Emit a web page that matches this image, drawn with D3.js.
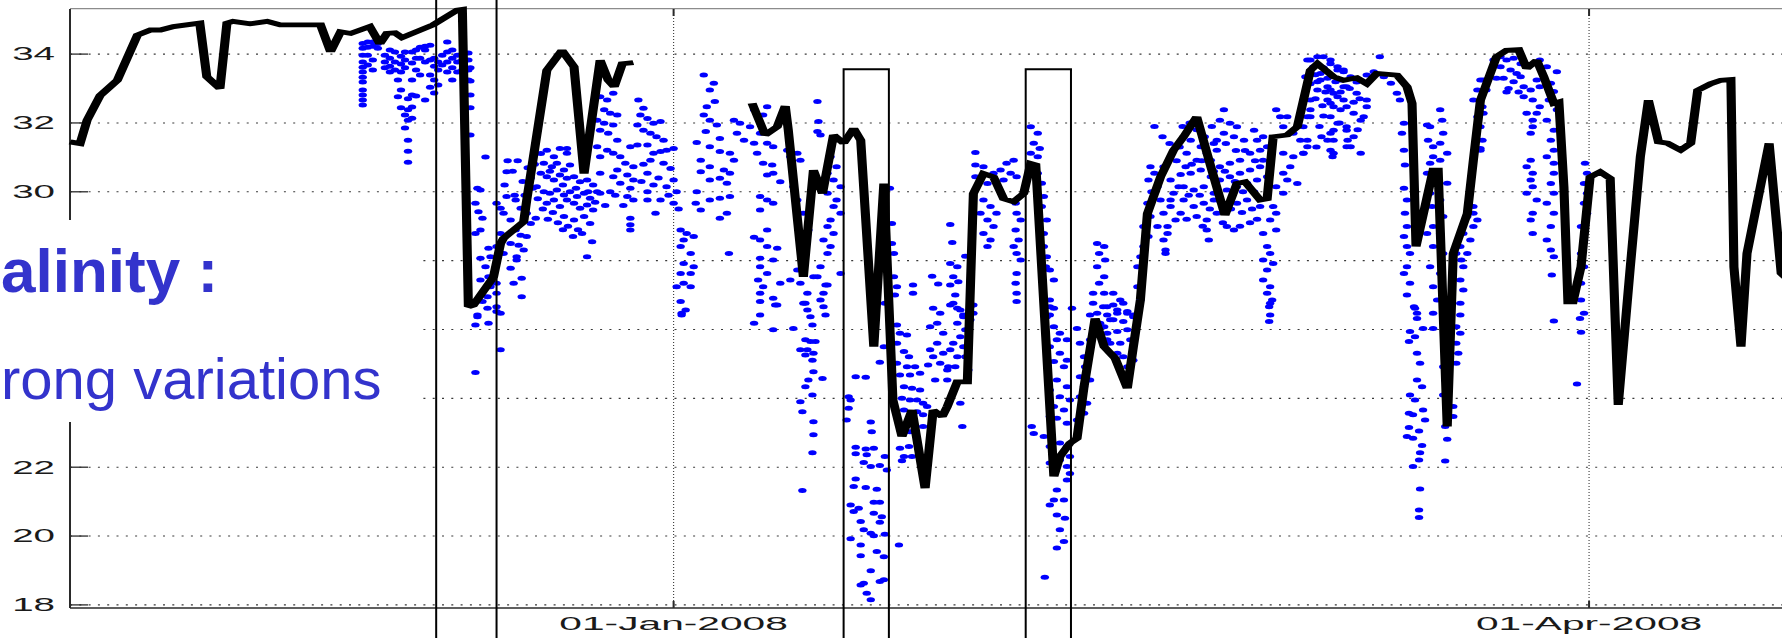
<!DOCTYPE html>
<html>
<head>
<meta charset="utf-8">
<script src="https://cdn.jsdelivr.net/npm/d3@7"></script>
<style>
  html, body { margin: 0; padding: 0; background: #fff; }
  svg { display: block; }
</style>
</head>
<body>
<svg id="chart" width="1782" height="638"></svg>
<script>
// Days are counted from 1 Jan 2008 (negative = late 2007); values are salinity.

const yTickValues = [18, 20, 22, 24, 26, 28, 30, 32, 34];
const xTickDates = ["2008-01-01", "2008-04-01"];

// Model salinity, first stretch (November - December 2007)
const modelDecember = [
  [-60.0,31.45],[-59.0,31.40],[-58.3,32.08],[-57.0,32.80],[-55.3,33.24],[-53.3,34.55],[-52.0,34.70],
  [-51.0,34.70],[-49.7,34.80],[-47.1,34.90],[-46.4,33.34],[-45.1,33.00],[-44.4,34.90],[-43.8,34.95],
  [-42.1,34.88],[-40.4,34.95],[-39.1,34.85],[-35.1,34.85],[-34.1,34.07],[-33.1,34.65],[-32.1,34.60],
  [-30.2,34.80],[-29.2,34.30],[-28.5,34.60],[-27.7,34.62],[-27.0,34.48],[-23.9,34.85],[-21.5,35.28],
  [-21.0,35.30],[-20.4,26.66],[-19.9,26.71],[-17.9,27.53],[-17.2,28.50],[-16.9,28.65],[-14.9,29.13],
  [-14.6,29.76],[-12.6,33.53],[-11.1,34.11],[-9.9,33.63],[-8.9,30.53],[-7.3,33.82],[-6.5,33.24],
  [-5.9,33.05],[-5.1,33.72],[-4.0,33.75]
];

// Model salinity, second stretch (January - April 2008)
const modelJanuaryApril = [
  [7.8,32.57],[9.1,31.65],[10.3,31.89],[11.1,32.49],[11.4,31.79],[12.9,27.53],[13.9,30.63],[14.8,29.95],
  [15.9,31.65],[16.9,31.41],[17.9,31.84],[18.6,31.50],[19.9,25.50],[20.9,30.24],[21.8,23.95],[22.7,22.89],
  [23.7,23.66],[25.0,21.39],[25.8,23.66],[26.7,23.47],[27.2,23.76],[28.2,24.48],[29.2,24.48],[29.8,29.95],
  [30.8,30.53],[31.8,30.43],[32.8,29.80],[33.8,29.71],[34.8,29.95],[35.5,30.82],[36.0,30.78],[37.8,21.73],
  [38.4,22.31],[39.4,22.70],[40.1,22.84],[40.8,24.34],[41.9,26.32],[42.8,25.50],[43.9,25.16],[45.1,24.29],
  [45.7,25.50],[46.4,26.86],[47.1,29.37],[48.4,30.43],[49.7,31.21],[50.7,31.60],[52.0,32.18],[53.4,30.73],
  [54.8,29.32],[56.0,30.24],[56.8,30.29],[58.3,29.76],[59.0,29.80],[59.6,31.60],[61.0,31.65],[62.0,31.89],
  [63.3,33.53],[64.0,33.72],[65.6,33.34],[66.6,33.24],[67.9,33.31],[68.9,33.14],[69.9,33.44],[71.9,33.39],
  [72.9,33.05],[73.4,32.57],[73.8,28.41],[75.5,30.63],[76.0,30.63],[76.9,23.18],[77.5,28.21],[78.9,29.37],
  [79.5,30.92],[80.2,32.66],[81.8,33.92],[82.8,34.11],[84.0,34.13],[84.8,33.58],[85.8,33.82],[86.5,33.34],
  [87.5,32.57],[88.0,32.61],[88.5,30.14],[88.9,26.80],[89.4,26.80],[90.2,27.82],[91.1,30.43],[92.1,30.58],
  [93.1,30.39],[93.9,23.81],[95.1,27.82],[96.1,31.02],[96.9,32.66],[97.9,31.45],[98.8,31.41],[100.1,31.21],
  [101.1,31.41],[101.8,32.95],[103.1,33.14],[104.1,33.24],[105.1,33.26],[105.4,27.82],[106.1,25.50],
  [106.7,28.21],[108.9,31.41],[110.1,27.63],[111.0,27.40]
];

// Observed salinity samples
const salinityObs = [
  // late November
  [-30.9,34.31],[-30.9,34.17],[-30.9,33.97],[-30.9,33.77],[-30.9,33.62],[-30.9,33.48],[-30.9,33.33],[-30.9,33.19],
  [-30.9,32.96],[-30.9,32.81],[-30.9,32.67],[-30.9,32.52],[-30.4,34.35],[-30.4,34.20],[-30.4,33.97],[-30.4,33.68],
  [-29.9,34.35],[-29.9,34.23],[-29.9,33.83],[-29.9,33.54],[-29.4,34.31],[-29.4,34.17],[-28.7,33.97],[-28.7,33.77],
  [-28.7,33.60],[-28.2,34.12],[-28.2,33.88],[-28.2,33.65],[-28.2,33.48],[-27.7,34.06],[-27.7,33.77],[-27.7,33.54],
  [-27.4,33.25],[-27.4,32.76],[-27.1,33.94],[-27.1,33.71],[-27.1,33.48],[-27.1,32.96],[-27.1,32.44],[-26.7,34.06],
  [-26.7,33.83],[-26.7,33.60],[-26.7,32.23],[-26.7,31.85],[-26.4,32.70],[-26.4,32.38],[-26.4,32.08],[-26.4,31.50],
  [-26.4,31.18],[-26.4,30.86],[-26.0,34.06],[-26.0,33.74],[-26.0,33.25],[-26.0,32.81],[-26.0,32.46],[-26.0,32.14],
  [-25.6,34.12],[-25.6,33.88],[-25.6,33.54],[-25.6,32.78],[-25.2,34.20],[-25.2,33.88],[-25.2,33.39],[-24.7,34.23],
  [-24.7,34.12],[-24.7,33.77],[-24.7,32.67],[-24.2,34.26],[-24.2,33.83],[-24.2,33.39],[-24.2,33.04],[-23.8,33.88],
  [-23.8,33.65],[-23.8,33.25],[-23.8,32.87],[-23.4,33.77],[-23.4,33.54],[-23.4,33.10],[-23.0,33.97],[-23.0,33.68],
  [-22.5,34.35],[-22.5,34.06],[-22.5,33.77],[-22.5,33.48],[-22.0,34.12],[-22.0,33.88],[-22.0,33.60],[-22.0,33.25],
  [-21.5,33.97],[-21.5,33.77],[-21.5,33.48],[-21.0,34.00],[-21.0,33.83],[-21.0,33.54],[-20.4,34.03],[-20.4,33.83],
  [-20.4,33.54],[-20.4,33.25],[-20.2,33.60],[-20.2,33.22],[-20.2,32.81],[-20.2,32.44],[-20.2,31.65],[-18.7,31.01],
  // early December
  [-19.5,30.10],[-19.2,30.05],[-19.7,29.67],[-19.4,29.42],[-19.0,29.23],[-19.2,28.89],[-19.7,28.79],[-18.4,28.36],
  [-18.2,28.11],[-19.2,28.07],[-18.7,27.82],[-18.4,27.53],[-19.2,27.44],[-18.2,27.24],[-17.6,27.05],[-18.5,26.95],
  [-19.0,26.81],[-17.6,26.66],[-17.2,26.47],[-19.5,26.37],[-16.6,30.58],[-17.6,29.67],[-17.2,29.52],[-16.9,29.38],
  [-16.2,29.18],[-15.7,28.89],[-15.2,28.74],[-17.2,28.79],[-16.2,28.50],[-15.4,28.45],[-17.6,28.41],[-16.9,28.21],
  [-15.6,28.02],[-16.2,27.78],[-15.1,27.49],[-15.9,27.34],[-15.1,26.95],[-17.6,27.34],[-16.6,29.86],[-15.7,29.76],
  [-15.2,29.52],[-14.6,29.38],[-14.2,29.08],[-13.7,29.23],[-14.6,28.70],[-14.9,28.31],[-15.6,28.11],[-19.5,26.42],
  [-18.5,26.62],[-17.6,26.52],[-19.7,26.13],[-18.4,26.18],[-17.2,25.41],[-19.7,24.75],
  // mid to late December
  [-13.2,31.11],[-12.6,31.21],[-11.9,31.02],[-11.3,31.26],[-10.6,31.12],[-12.9,30.83],[-12.1,30.73],[-11.6,30.83],
  [-10.9,30.63],[-10.3,30.78],[-13.2,30.54],[-12.6,30.44],[-11.9,30.34],[-11.3,30.49],[-10.6,30.39],[-9.9,30.44],
  [-9.3,30.29],[-8.6,30.34],[-8.0,30.20],[-13.6,30.15],[-12.9,30.00],[-12.3,29.96],[-11.6,30.05],[-10.9,29.91],
  [-10.3,30.00],[-9.6,29.86],[-8.9,29.96],[-8.3,29.81],[-7.6,30.00],[-12.6,29.67],[-11.9,29.76],[-11.3,29.57],
  [-10.6,29.76],[-9.9,29.67],[-9.3,29.52],[-8.6,29.62],[-8.0,29.47],[-10.9,29.28],[-9.9,29.18],[-8.9,29.28],
  [-8.3,29.08],[-9.1,28.79],[-8.1,28.55],[-8.6,28.11],[-10.6,31.26],[-7.3,30.54],[-7.3,29.96],
  [-16.5,30.90],[-16.0,30.60],[-15.5,30.90],[-15.0,30.30],[-14.5,30.70],[-14.0,30.10],[-13.5,29.80],[-13.0,29.50],
  [-12.5,29.20],[-12.0,29.40],[-11.5,29.10],[-11.0,28.90],[-10.5,29.00],[-10.0,28.70],[-9.5,28.90],[-16.8,30.20],
  [-15.8,29.90],[-14.8,29.90],[-14.2,30.40],[-13.8,30.80],[-12.3,30.60],[-11.0,30.20],[-9.7,30.10],[-8.5,30.00],
  [-7.8,29.70],[-6.8,29.60],[-6.3,30.00],[-5.8,29.90],[-5.0,29.60],[-3.2,30.30],[-3.0,30.80],[-1.5,30.40],
  [-0.5,29.90],[0.5,29.50],
  [-7.3,32.76],[-6.6,32.67],[-6.0,32.86],[-6.9,32.38],[-6.3,32.28],[-5.6,32.23],[-7.6,32.08],[-6.9,31.99],
  [-6.0,31.94],[-7.3,31.79],[-6.5,31.70],[-5.6,31.50],[-7.6,31.31],[-6.6,31.21],[-7.3,31.02],[-6.0,31.12],
  [-5.3,31.02],[-4.3,31.31],[-3.6,31.36],[-4.8,30.83],[-4.0,30.73],[-5.6,30.63],[-4.6,30.49],[-4.0,30.34],
  [-6.0,30.44],[-5.3,30.25],[-4.3,30.10],[-4.6,29.86],[-4.0,29.76],[-4.3,29.23],[-4.3,29.04],[-4.3,28.89],
  [-3.5,32.67],[-3.0,32.43],[-3.3,32.23],[-2.6,32.13],[-3.6,31.94],[-3.0,31.79],[-2.0,31.99],[-1.3,32.04],
  [-2.3,31.70],[-1.7,31.60],[-1.0,31.50],[-2.6,31.36],[-2.0,31.12],[-1.3,31.17],[-0.7,31.21],[0.0,31.26],
  [-2.3,30.92],[-1.0,30.83],[-0.3,30.68],[-2.6,30.54],[-2.0,30.20],[-2.6,30.00],[-0.7,30.15],[0.0,30.34],
  [0.3,30.00],[0.0,29.67],[-1.3,29.76],[-1.8,29.38],[-2.6,29.76],
  // January
  [3.0,33.39],[4.0,33.15],[3.6,32.96],[4.1,32.62],[3.3,32.47],[3.0,32.23],[3.6,32.08],[4.3,31.94],
  [3.2,31.75],[4.6,31.55],[2.3,31.43],[3.6,31.31],[4.6,31.17],[5.6,31.12],[6.0,30.92],[2.7,30.92],
  [3.6,30.73],[5.0,30.63],[5.6,30.54],[2.7,30.58],[3.6,30.34],[4.6,30.39],[5.3,30.25],[2.3,30.00],
  [3.6,29.76],[4.6,29.81],[5.6,29.86],[2.2,29.67],[5.3,29.38],[2.7,29.47],[4.6,29.23],[6.3,31.70],
  [6.6,31.99],[6.0,32.08],[7.6,31.89],[8.6,31.70],[9.3,31.41],[7.0,31.50],[8.0,31.41],[8.3,31.12],
  [9.9,31.31],[8.9,30.83],[9.8,30.78],[9.9,30.54],[10.6,30.29],[9.3,30.49],[8.6,29.86],[9.3,29.76],
  [9.9,29.67],[8.6,29.47],[9.3,28.89],[8.0,28.68],[8.6,28.60],[9.3,28.41],[10.3,28.36],[8.6,28.07],
  [9.9,28.02],[8.6,27.82],[9.3,27.63],[8.4,27.44],[8.9,27.24],[8.6,27.05],[9.9,26.91],[10.3,26.71],
  [8.6,26.42],[5.5,28.21],[8.0,32.38],[8.9,32.23],[9.3,32.47],[11.3,31.21],[11.6,31.02],[12.3,31.12],
  [12.6,30.92],[11.9,30.15],[12.3,29.76],[12.9,29.38],[13.4,28.89],[13.9,27.53],[15.1,27.29],
  [14.3,32.62],[14.4,32.04],[14.3,31.75],[14.6,31.65],[15.6,31.02],[16.2,30.73],[15.3,30.54],[15.9,30.34],
  [16.6,30.15],[15.3,29.96],[16.2,29.76],[15.9,29.57],[16.6,29.38],[15.6,29.18],[15.3,28.99],[15.9,28.79],
  [14.9,28.60],[15.6,28.41],[15.3,28.21],[14.6,27.82],[16.6,27.63],[14.3,27.53],[15.3,27.29],[14.9,27.05],
  [14.6,26.86],[12.6,27.34],[12.3,27.73],[11.6,27.44],[10.6,27.34],[13.3,27.05],[13.1,26.76],
  [0.7,28.89],[1.3,28.79],[1.0,28.60],[2.0,28.70],[0.7,28.41],[1.7,28.21],[1.0,27.92],[2.0,27.82],
  [0.7,27.63],[1.7,27.63],[1.0,27.34],[1.7,27.24],[0.7,26.81],[0.8,26.47],[0.3,27.24],[1.2,26.57],[0.8,26.42],
  [8.6,26.81],[10.1,26.71],[8.0,26.18],[9.9,25.99],[11.9,26.03],[12.9,26.76],[13.3,26.57],[13.6,26.37],
  [13.8,26.13],[13.1,25.70],[13.6,25.65],[14.1,25.65],[12.6,25.41],[13.3,25.41],[13.9,25.31],[13.1,25.26],
  [13.8,25.11],[13.9,24.77],[13.4,24.53],[13.1,24.34],[13.8,24.10],[12.6,23.90],[12.8,23.61],[13.9,23.32],
  [13.9,22.94],[13.8,22.42],[12.8,21.32],[14.8,24.58],[14.9,26.66],[15.1,26.42],
  // freshening event, around 20 January
  [17.4,24.05],[17.6,23.95],[17.4,23.71],[17.2,23.37],[18.1,24.63],[19.1,24.61],[19.6,23.31],[19.7,23.03],
  [20.5,25.05],[18.1,22.58],[19.1,22.53],[19.9,22.55],[18.1,22.39],[19.2,22.36],[18.9,22.14],[19.6,22.02],
  [20.5,22.05],[21.2,21.92],[21.0,22.31],[18.1,21.66],[17.9,21.44],[19.1,21.41],[20.2,21.36],[17.6,20.90],
  [18.4,20.81],[17.9,20.71],[19.9,20.98],[20.5,20.98],[19.9,20.66],[20.7,20.56],[20.5,20.40],[18.6,20.42],
  [18.9,20.18],[19.6,20.08],[18.6,19.74],[17.6,19.92],[19.9,20.01],[21.0,20.05],[18.6,19.43],[20.2,19.55],
  [20.9,19.40],[19.6,18.99],[18.9,18.63],[20.9,18.73],[19.2,18.34],[19.6,18.15],[18.6,18.58],[20.5,18.68],
  [20.9,25.50],[22.4,19.74],[21.5,30.10],[21.7,29.08],[21.7,28.50],[21.9,28.21],[21.9,27.53],[22.2,27.24],
  [22.0,27.00],[21.0,26.76],
  [22.2,26.13],[22.5,25.89],[23.2,25.84],[22.2,25.60],[22.9,25.36],[23.4,25.21],[22.2,25.02],[23.2,24.92],
  [24.0,24.92],[22.5,24.68],[23.5,24.68],[24.5,24.73],[22.9,24.34],[23.7,24.29],[24.5,24.24],[22.7,24.00],
  [23.5,23.95],[24.2,23.95],[24.8,23.86],[22.9,23.66],[24.2,23.61],[25.2,23.76],[23.5,23.37],[24.8,23.52],
  [22.9,23.13],[23.5,23.03],[24.8,23.18],[22.5,22.55],[23.4,22.60],[22.9,22.31],[23.7,22.31],[22.7,22.19],
  [25.8,26.62],[26.5,26.47],[26.2,26.18],[25.5,26.08],[26.8,25.89],[26.2,25.60],[25.5,25.41],[26.8,25.31],
  [27.5,25.41],[25.8,25.21],[26.5,25.02],[27.3,24.92],[25.3,24.97],[27.2,24.82],[26.0,24.53],[27.2,24.53],
  [28.2,26.62],[28.8,26.42],[28.2,26.18],[29.0,25.99],[28.5,25.79],[27.8,25.60],[28.8,25.50],[28.2,25.21],
  [29.0,25.21],[28.0,24.92],[29.3,24.82],[28.5,23.86],[28.7,23.18],[27.5,26.71],[29.5,26.28],[29.8,26.71],
  [23.8,27.29],[23.8,27.05],[25.7,27.55],[26.3,27.32],[27.5,29.05],[27.7,28.53],[29.0,28.13],[27.5,27.92],
  [28.2,27.82],[27.8,27.53],[27.5,27.29],[28.3,27.39],[28.0,27.00],[27.8,26.76],[29.5,26.66],[29.8,26.47],
  [28.5,26.57],[28.8,26.37],
  // early February
  [30.0,31.14],[30.0,30.78],[30.0,30.44],[30.8,30.73],[31.2,30.24],[31.8,30.54],[32.5,30.63],[33.1,30.83],
  [33.8,30.92],[33.5,30.54],[32.8,30.34],[34.1,30.44],[30.8,29.76],[31.5,29.57],[32.1,29.38],[30.5,29.38],
  [31.2,29.18],[31.8,28.99],[30.8,28.79],[31.5,28.60],[31.2,28.41],[34.0,29.67],[34.1,29.38],[34.5,29.18],
  [34.0,28.89],[34.3,28.60],[33.8,28.41],[34.1,28.21],[34.5,28.02],[34.1,27.63],[34.0,27.34],[34.1,27.05],
  [34.1,26.81],[35.5,31.89],[36.2,31.70],[35.8,31.41],[36.4,31.26],[35.5,31.12],[36.2,31.02],[35.7,30.73],
  [36.2,30.54],[36.6,30.25],[36.8,29.86],[36.6,29.57],[37.1,29.18],[36.8,28.79],[36.8,28.41],[37.1,28.11],
  [37.0,27.82],[37.4,27.73],[37.8,27.44],[37.4,26.86],[37.8,26.62],[37.4,26.42],
  // freshening event, around 8 February
  [35.6,23.18],[35.8,22.98],[37.1,26.37],[37.4,26.66],[37.8,26.08],[38.1,25.70],[37.4,25.50],[38.4,25.31],
  [37.8,25.07],[38.8,24.92],[39.1,25.11],[38.1,24.53],[39.1,24.34],[37.4,24.24],[38.4,24.05],[39.4,23.95],
  [37.8,23.76],[38.8,23.66],[38.1,23.42],[39.1,23.28],[37.4,23.47],[36.8,22.89],[37.4,22.60],[38.4,22.70],
  [39.1,22.60],[39.4,22.31],[38.4,22.21],[37.4,22.12],[39.1,22.02],[39.4,21.82],[39.1,21.63],[38.1,21.34],
  [37.8,21.05],[38.8,21.05],[37.4,20.90],[38.1,20.61],[38.9,20.52],[38.4,20.18],[38.8,19.84],[38.1,19.65],
  [36.9,18.80],[40.1,26.03],[40.4,25.60],[40.8,25.21],[40.9,24.92],[40.4,24.63],[41.4,24.53],[40.8,24.34],
  [40.4,24.05],[41.1,23.86],[40.8,23.57],[40.1,23.37],[41.4,25.70],[42.1,25.89],[42.8,26.08],[39.1,25.70],
  [38.4,25.89],
  [41.7,26.76],[42.7,26.66],[43.7,26.71],[44.7,26.76],[42.1,26.47],[43.1,26.42],[44.1,26.47],[45.1,26.52],
  [42.4,26.18],[43.7,26.28],[44.7,26.23],[45.7,26.37],[43.1,25.89],[44.1,25.94],[45.1,25.99],[43.4,25.60],
  [44.4,25.60],[45.4,25.70],[44.1,25.31],[44.7,25.21],[45.1,24.92],[45.7,25.11],[43.1,25.70],
  [42.1,28.50],[42.8,28.41],[42.3,28.21],[42.9,28.02],[42.1,27.82],[42.8,27.53],[42.3,27.34],[41.7,27.05],
  [42.8,27.05],[43.7,27.05],[44.4,26.86],[43.1,26.66],[44.1,26.57],[45.1,26.47],[41.4,26.42],[45.7,26.42],
  [43.4,26.28],[39.6,26.62],
  // mid to late February
  [46.4,28.11],[46.7,28.41],[47.4,30.73],[47.2,30.34],[47.5,30.00],[47.1,29.67],[47.4,29.28],[46.7,28.99],
  [47.2,28.70],[46.1,27.82],[46.1,27.24],[46.4,26.86],[48.1,30.15],[48.4,29.76],[48.7,29.38],[49.1,28.99],
  [48.7,28.60],[48.9,28.21],[49.4,30.34],[49.7,29.96],[49.4,29.57],[49.9,29.18],[48.1,28.99],[48.7,30.73],
  [47.8,30.54],
  [51.4,31.50],[52.4,31.31],[51.0,31.12],[52.0,30.92],[53.0,31.12],[54.0,31.21],[54.7,32.38],[54.3,32.08],
  [55.3,31.99],[56.0,31.89],[54.7,31.70],[55.7,31.60],[56.7,31.50],[57.7,31.79],[58.0,31.50],[54.0,31.50],
  [53.4,30.92],[54.3,30.73],[55.3,30.83],[56.3,30.92],[57.3,31.12],[58.3,31.21],[59.0,31.31],[51.4,30.54],
  [52.4,30.63],[53.4,30.44],[54.3,30.34],[55.3,30.44],[56.3,30.54],[57.3,30.63],[58.3,30.73],[59.3,30.83],
  [50.7,30.15],[51.7,30.05],[52.7,30.15],[53.7,29.96],[55.0,30.05],[56.0,30.15],[57.0,30.25],[58.0,30.34],
  [59.0,30.44],[50.7,29.76],[51.7,29.57],[52.7,29.67],[53.7,29.76],[56.0,29.67],[57.0,29.76],[58.3,29.57],
  [52.0,29.28],[53.0,29.18],[54.0,29.38],[55.0,28.99],[55.7,28.89],[53.0,28.89],[53.2,28.60],[49.4,29.76],
  [50.4,29.38],[49.1,28.79],[48.9,28.31],[50.2,30.15],[50.9,30.73],
  [47.8,31.90],[48.6,31.60],[49.3,31.40],[50.3,31.30],[50.6,31.90],[51.3,32.00],[52.0,31.80],[52.8,31.60],
  [53.5,31.90],[53.7,31.40],[54.9,31.40],[55.9,31.20],[56.8,31.20],[57.8,30.90],[50.0,30.90],[50.4,30.50],
  [51.5,30.80],[52.5,30.90],[53.7,30.60],[54.8,30.60],[55.8,30.30],[56.6,30.00],[57.7,30.00],[51.2,29.90],
  [52.3,29.90],[53.3,29.50],[54.4,29.70],[55.4,29.50],[56.5,29.40],[57.5,29.50],[51.0,29.20],[52.6,29.00],
  [54.6,29.10],[56.3,29.00],[57.3,29.10],[58.0,29.20],
  [59.9,32.38],[60.3,32.18],[61.0,32.18],[60.6,31.89],[61.6,31.70],[62.3,31.50],[63.0,31.31],[60.6,31.12],
  [61.6,31.02],[62.6,31.12],[61.3,30.73],[60.6,30.54],[61.0,30.34],[62.0,30.24],[59.9,30.15],[60.6,29.96],
  [59.6,29.57],[59.9,29.38],[59.3,29.18],[59.9,28.89],[58.6,28.79],[63.3,32.18],[58.6,31.60],[58.6,30.92],
  [59.0,28.41],[59.3,28.21],[58.6,28.02],[59.6,27.92],[59.0,27.73],[58.6,27.44],[59.3,27.24],[59.0,27.05],
  [59.5,26.86],[59.2,26.66],[59.3,26.42],[59.3,26.76],[59.2,26.23],
  // early March
  [63.3,33.83],[64.0,33.92],[64.6,33.92],[65.3,33.83],[66.0,33.63],[66.6,33.54],[63.6,33.63],[64.3,33.44],
  [65.3,33.34],[66.3,33.25],[66.9,33.05],[63.3,33.14],[64.0,32.96],[63.3,32.67],[65.3,32.96],[66.0,32.76],
  [66.6,32.67],[65.3,32.57],[66.3,32.38],[65.3,32.18],[66.0,31.99],[66.9,31.79],[65.3,31.70],[65.6,31.50],
  [65.3,31.21],[65.5,31.02],[66.9,31.31],[63.0,33.83],[65.3,33.72],[66.0,33.54],[66.6,33.49],[67.3,33.34],
  [67.9,33.19],[68.9,33.39],[69.6,33.49],[70.6,33.34],[71.3,33.15],[71.9,32.86],[72.2,32.67],[62.8,33.34],
  [64.3,33.25],[65.0,33.05],[65.6,32.86],[66.9,32.47],[67.6,32.28],[68.3,32.08],[68.9,32.67],[62.6,32.67],
  [63.3,32.38],[63.0,32.18],[62.6,31.89],[63.0,31.50],[62.6,31.12],[65.0,32.67],[65.6,32.47],[65.6,31.79],
  [65.0,31.50],[65.6,31.12],[66.9,31.89],[67.6,31.60],[67.3,31.31],[68.3,31.12],[68.6,32.18],[68.9,32.47],
  [70.2,33.92],[67.9,32.86],[66.6,33.05],
  [63.8,33.40],[64.6,33.60],[65.0,33.30],[65.8,33.20],[64.0,33.20],[64.8,32.90],[63.8,32.70],[64.5,32.50],
  [66.3,32.90],[67.2,33.00],[67.6,32.60],[68.2,32.70],[66.2,32.00],[64.6,32.20],[64.2,31.90],[67.0,31.50],
  [68.0,31.80],[63.9,31.30],[64.4,31.60],
  // mid March
  [72.6,31.99],[72.4,31.70],[72.6,31.21],[72.7,30.78],[72.6,30.10],[72.9,29.76],[72.7,29.38],[72.9,28.99],
  [72.6,28.70],[72.9,28.41],[73.2,28.21],[72.9,27.82],[72.6,27.63],[73.2,27.34],[72.9,27.00],[73.6,26.66],
  [73.9,26.47],[73.7,26.62],[73.9,26.32],[73.2,25.94],[73.1,25.65],[73.7,25.79],[73.9,25.31],[74.2,25.02],
  [73.9,24.53],[74.4,24.34],[73.2,24.10],[73.7,23.95],[74.5,23.66],[73.1,23.57],[73.5,23.52],[74.7,23.37],
  [73.1,23.15],[74.1,23.05],[72.9,22.89],[73.5,22.84],[74.4,22.63],[74.2,22.42],[74.1,22.21],[73.5,22.02],
  [74.2,21.37],[74.1,20.76],[74.1,20.54],[75.5,26.03],[74.5,26.03],
  [74.9,31.94],[75.2,31.89],[75.0,31.50],[75.5,31.31],[76.2,32.38],[76.4,32.08],[76.5,31.70],[76.2,31.41],
  [75.5,31.02],[75.2,30.83],[76.2,30.92],[76.9,31.12],[74.9,30.54],[75.9,30.34],[76.9,30.25],[75.2,29.96],
  [76.2,29.76],[75.4,29.57],[76.5,29.28],[75.5,28.99],[76.2,28.79],[74.9,28.79],[75.5,28.41],[76.5,28.21],
  [75.2,27.82],[76.2,27.63],[75.5,27.24],[75.9,26.86],[75.5,26.47],
  [80.2,33.25],[79.9,32.96],[79.5,32.67],[80.4,32.47],[79.9,32.18],[80.2,31.89],[80.4,31.50],[80.2,31.26],
  [79.5,29.57],[78.9,29.28],[79.5,28.99],[78.5,28.79],[79.2,28.60],[78.2,28.41],[78.9,28.21],[78.5,27.82],
  [78.2,27.44],[78.5,27.15],[78.2,26.76],[79.5,29.38],[79.9,29.18],[77.8,28.21],[78.3,28.02],[78.2,26.42],
  [77.8,26.08],[78.2,25.89],[77.8,25.60],[78.0,25.31],[77.8,25.02],[76.5,24.92],[76.7,24.53],[76.5,24.10],
  [77.5,23.76],[77.5,23.47],[76.7,23.18],[76.9,22.81],[76.7,22.18],
  // late March
  [81.5,33.83],[82.2,33.92],[82.8,33.83],[83.5,33.88],[84.2,33.72],[82.2,33.63],[83.2,33.54],[83.8,33.44],
  [80.5,33.25],[80.8,32.96],[80.2,32.67],[80.5,32.28],[80.2,31.21],[84.2,33.34],[84.5,33.05],[85.2,32.96],
  [84.5,32.76],[85.8,33.25],[86.1,33.05],[85.4,32.67],[86.1,32.47],[85.8,32.28],[84.8,32.28],[85.4,32.08],
  [85.2,31.70],[85.4,31.89],[86.1,33.83],[86.8,33.63],[87.8,33.49],[87.2,33.15],[87.5,32.91],[87.0,32.67],
  [87.8,32.38],[86.8,32.08],[87.5,31.79],[87.2,31.50],[87.5,31.21],[86.8,31.02],[85.2,30.92],[84.8,30.73],
  [85.4,30.54],[85.2,30.34],[85.4,30.15],[84.8,29.96],[85.8,29.76],[85.4,29.38],[85.2,29.18],[85.4,28.79],
  [87.5,30.83],[87.5,30.54],[87.2,30.24],[87.5,29.96],[86.8,29.67],[87.5,29.38],[87.2,28.99],[86.8,28.60],
  [87.2,28.31],[87.5,28.11],[87.3,27.58],[87.5,26.25],
  [82.5,33.30],[83.5,33.20],[84.0,32.90],[82.8,32.90],[81.8,33.30],[83.0,33.00],
  [90.6,30.83],[90.8,30.54],[90.5,30.24],[90.8,29.96],[90.5,29.67],[90.8,29.38],[90.2,28.99],[90.5,28.60],
  [90.2,28.21],[90.5,27.82],[90.2,27.34],[90.2,26.86],[90.5,26.47],[90.1,26.32],[90.2,25.92],[89.8,24.42]
];

// Highlighted time windows (day range; top = salinity level of the upper edge, null = open)
const watchWindows = [
  { from: -23.6, to: -17.6, top: null },
  { from: 16.9,  to: 21.4,  top: 33.56 },
  { from: 35.0,  to: 39.5,  top: 33.56 }
];

const titleLine = "alinity :";
const noteLine = "rong variations";

// ---------------------------------------------------------------------------
const W = 1782, H = 638;
const svg = d3.select("#chart");
const jan1 = Date.UTC(2008, 0, 1);
const toDate = d => new Date(jan1 + d * 864e5);

const plotLeft = 70, plotTop = 9, plotBottom = 608;
const x = d3.scaleUtc().domain([toDate(-60), toDate(111)]).range([plotLeft, 1790.26]);
const y = d3.scaleLinear().domain([17.91, 35.31]).range([plotBottom, plotTop]);

// The plotting backend stretched everything horizontally; keep that look for the marks
const S = 1.9;
const xs = x.copy().range(x.range().map(v => v / S));

svg.append("rect").attr("width", W).attr("height", H).attr("fill", "#fff");

// grid
const grid = svg.append("g");
grid.selectAll("line.h").data(yTickValues).join("line")
  .attr("x1", plotLeft).attr("x2", W)
  .attr("y1", d => y(d)).attr("y2", d => y(d))
  .attr("stroke", "#3a3a3a").attr("stroke-width", 1.1)
  .attr("stroke-dasharray", "2 7.3");
const xTicks = xTickDates.map(s => new Date(s + "T00:00:00Z"));
grid.selectAll("line.v").data(xTicks).join("line")
  .attr("x1", d => x(d)).attr("x2", d => x(d))
  .attr("y1", plotTop).attr("y2", plotBottom)
  .attr("stroke", "#3a3a3a").attr("stroke-width", 1.1)
  .attr("stroke-dasharray", "1 2");

// axes frame
svg.append("line").attr("x1", plotLeft).attr("x2", W).attr("y1", 8.7).attr("y2", 8.7)
  .attr("stroke", "#8c8c8c").attr("stroke-width", 1.3);
svg.append("line").attr("x1", plotLeft).attr("x2", W).attr("y1", plotBottom).attr("y2", plotBottom)
  .attr("stroke", "#2a2a2a").attr("stroke-width", 1.4);
svg.append("line").attr("x1", plotLeft).attr("x2", plotLeft).attr("y1", plotTop).attr("y2", plotBottom)
  .attr("stroke", "#2a2a2a").attr("stroke-width", 2);

// tick marks
svg.append("g").selectAll("line").data(yTickValues).join("line")
  .attr("x1", plotLeft).attr("x2", plotLeft + 18)
  .attr("y1", d => y(d)).attr("y2", d => y(d))
  .attr("stroke", "#2a2a2a").attr("stroke-width", 1.3);
svg.append("g").selectAll("line").data(xTicks).join("line")
  .attr("x1", d => x(d)).attr("x2", d => x(d))
  .attr("y1", plotTop).attr("y2", plotTop + 7)
  .attr("stroke", "#2a2a2a").attr("stroke-width", 2);
svg.append("g").selectAll("line").data(xTicks).join("line")
  .attr("x1", d => x(d)).attr("x2", d => x(d))
  .attr("y1", plotBottom - 7).attr("y2", plotBottom)
  .attr("stroke", "#2a2a2a").attr("stroke-width", 2);

// observations
svg.append("g").selectAll("ellipse").data(salinityObs).join("ellipse")
  .attr("cx", d => x(toDate(d[0]))).attr("cy", d => y(d[1]))
  .attr("rx", 4.2).attr("ry", 2.5)
  .attr("fill", "#0000ff");

// model
const line = d3.line().x(d => xs(toDate(d[0]))).y(d => y(d[1]));
const modelG = svg.append("g").attr("transform", `scale(${S},1)`);
modelG.selectAll("path").data([modelDecember, modelJanuaryApril]).join("path")
  .attr("d", line)
  .attr("fill", "none").attr("stroke", "#000")
  .attr("stroke-width", 4.8)
  .attr("stroke-linejoin", "miter").attr("stroke-miterlimit", 2);

// highlighted windows
svg.append("g").selectAll("path").data(watchWindows).join("path")
  .attr("d", w => {
    const a = x(toDate(w.from)), b = x(toDate(w.to));
    return w.top == null
      ? `M${a},0V${H}M${b},0V${H}`
      : `M${a},${H}V${y(w.top)}H${b}V${H}`;
  })
  .attr("fill", "none").attr("stroke", "#000").attr("stroke-width", 2);

// annotation panel
svg.append("rect").attr("x", 0).attr("y", 220).attr("width", 421).attr("height", 202).attr("fill", "#fff");
svg.append("text").attr("x", 1).attr("y", 292)
  .attr("font-family", "'Liberation Sans', Arial, sans-serif")
  .attr("font-weight", "bold").attr("font-size", 62)
  .attr("fill", "#3333cc").text(titleLine);
svg.append("text").attr("x", 1).attr("y", 399)
  .attr("font-family", "'Liberation Sans', Arial, sans-serif")
  .attr("font-size", 58)
  .attr("fill", "#3333cc").text(noteLine);

// tick labels (labels hidden by the annotation panel are not drawn)
const panelTop = 220, panelBottom = 422;
svg.append("g").selectAll("text")
  .data(yTickValues.filter(v => y(v) < panelTop || y(v) > panelBottom))
  .join("text")
  .attr("transform", d => `translate(55,${y(d)}) scale(2.2,1)`)
  .attr("text-anchor", "end").attr("dy", "0.36em")
  .attr("font-family", "'Liberation Sans', Arial, sans-serif")
  .attr("font-size", 17.5).attr("fill", "#1a1a1a")
  .text(d => d);
const fmt = d3.utcFormat("%d-%b-%Y");
svg.append("g").selectAll("text").data(xTicks).join("text")
  .attr("transform", d => `translate(${x(d)},629.5) scale(2.2,1)`)
  .attr("text-anchor", "middle")
  .attr("font-family", "'Liberation Sans', Arial, sans-serif")
  .attr("font-size", 18.5).attr("fill", "#1a1a1a")
  .text(d => fmt(d));
</script>
</body>
</html>
